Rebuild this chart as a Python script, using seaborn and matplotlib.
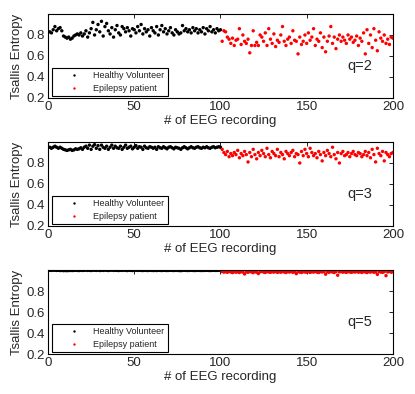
import pandas as pd
import numpy as np
import seaborn as sns
import matplotlib.pyplot as plt

# Tsallis entropy per recording
# recordings 1-100 healthy, 101-200 epilepsy

healthy_q2 = [0.83, 0.82, 0.85, 0.88, 0.84, 0.86, 0.87, 0.84, 0.79, 0.78,
              0.77, 0.78, 0.76, 0.77, 0.79, 0.80, 0.81, 0.80, 0.82, 0.79,
              0.81, 0.84, 0.78, 0.82, 0.86, 0.92, 0.80, 0.85, 0.90, 0.83,
              0.93, 0.79, 0.88, 0.91, 0.84, 0.81, 0.87, 0.78, 0.85, 0.89,
              0.82, 0.80, 0.88, 0.86, 0.83, 0.87, 0.84, 0.79, 0.86, 0.85,
              0.82, 0.88, 0.84, 0.90, 0.81, 0.86, 0.83, 0.85, 0.79, 0.87,
              0.84, 0.82, 0.88, 0.80, 0.85, 0.89, 0.83, 0.86, 0.81, 0.84,
              0.87, 0.82, 0.80, 0.85, 0.83, 0.81, 0.82, 0.89, 0.84, 0.86,
              0.83, 0.85, 0.82, 0.87, 0.84, 0.86, 0.82, 0.85, 0.83, 0.87,
              0.81, 0.86, 0.84, 0.88, 0.83, 0.85, 0.82, 0.86, 0.84, 0.85]
epilepsy_q2 = [0.74, 0.84, 0.83, 0.78, 0.76, 0.72, 0.77, 0.70, 0.75, 0.76,
               0.86, 0.71, 0.80, 0.74, 0.72, 0.76, 0.63, 0.70, 0.84, 0.70,
               0.73, 0.70, 0.80, 0.78, 0.74, 0.82, 0.70, 0.86, 0.76, 0.72,
               0.81, 0.69, 0.75, 0.73, 0.80, 0.88, 0.74, 0.70, 0.76, 0.78,
               0.72, 0.84, 0.75, 0.74, 0.62, 0.78, 0.71, 0.74, 0.80, 0.72,
               0.82, 0.75, 0.78, 0.86, 0.70, 0.76, 0.74, 0.82, 0.68, 0.78,
               0.64, 0.74, 0.79, 0.88, 0.72, 0.78, 0.67, 0.76, 0.80, 0.74,
               0.78, 0.75, 0.72, 0.80, 0.76, 0.78, 0.73, 0.75, 0.79, 0.70,
               0.77, 0.74, 0.82, 0.62, 0.85, 0.72, 0.80, 0.68, 0.86, 0.75,
               0.65, 0.83, 0.77, 0.74, 0.80, 0.72, 0.76, 0.71, 0.78, 0.77]

healthy_q3 = [0.95, 0.94, 0.95, 0.96, 0.95, 0.94, 0.95, 0.94, 0.93, 0.925,
              0.92, 0.925, 0.93, 0.92, 0.925, 0.935, 0.93, 0.935, 0.945, 0.93,
              0.95, 0.96, 0.94, 0.97, 0.93, 0.96, 0.975, 0.94, 0.965, 0.93,
              0.97, 0.95, 0.94, 0.96, 0.93, 0.95, 0.97, 0.94, 0.96, 0.945,
              0.94, 0.96, 0.93, 0.95, 0.97, 0.94, 0.95, 0.96, 0.935, 0.95,
              0.965, 0.94, 0.955, 0.95, 0.93, 0.96, 0.945, 0.94, 0.955, 0.95,
              0.94, 0.95, 0.93, 0.955, 0.945, 0.94, 0.955, 0.945, 0.935, 0.95,
              0.955, 0.945, 0.935, 0.95, 0.945, 0.94, 0.93, 0.945, 0.955, 0.945,
              0.935, 0.945, 0.955, 0.945, 0.94, 0.95, 0.955, 0.945, 0.94, 0.95,
              0.945, 0.955, 0.945, 0.94, 0.95, 0.955, 0.945, 0.95, 0.955, 0.95]
epilepsy_q3 = [0.93, 0.90, 0.88, 0.91, 0.86, 0.89, 0.87, 0.90, 0.88, 0.92,
               0.85, 0.89, 0.87, 0.91, 0.88, 0.81, 0.90, 0.86, 0.93, 0.88,
               0.84, 0.90, 0.87, 0.92, 0.89, 0.86, 0.94, 0.88, 0.85, 0.91,
               0.89, 0.87, 0.93, 0.86, 0.90, 0.88, 0.84, 0.91, 0.89, 0.87,
               0.90, 0.92, 0.86, 0.89, 0.88, 0.80, 0.91, 0.87, 0.93, 0.89,
               0.86, 0.94, 0.90, 0.87, 0.89, 0.85, 0.91, 0.88, 0.82, 0.90,
               0.87, 0.92, 0.89, 0.86, 0.95, 0.88, 0.84, 0.90, 0.80, 0.89,
               0.91, 0.87, 0.88, 0.90, 0.86, 0.89, 0.91, 0.88, 0.87, 0.90,
               0.89, 0.86, 0.88, 0.91, 0.87, 0.90, 0.85, 0.93, 0.88, 0.81,
               0.94, 0.89, 0.87, 0.91, 0.82, 0.90, 0.88, 0.86, 0.89, 0.90]

healthy_q5 = [0.997, 0.996, 0.998, 0.997, 0.996, 0.997, 0.995, 0.996, 0.994, 0.995,
              0.994, 0.995, 0.996, 0.995, 0.996, 0.997, 0.996, 0.995, 0.997, 0.996,
              0.997, 0.998, 0.996, 0.997, 0.995, 0.998, 0.997, 0.996, 0.998, 0.995,
              0.997, 0.996, 0.998, 0.997, 0.995, 0.997, 0.998, 0.996, 0.997, 0.996,
              0.995, 0.997, 0.996, 0.998, 0.996, 0.995, 0.997, 0.996, 0.995, 0.997,
              0.998, 0.996, 0.997, 0.996, 0.995, 0.997, 0.996, 0.995, 0.997, 0.996,
              0.995, 0.996, 0.995, 0.997, 0.996, 0.995, 0.997, 0.996, 0.995, 0.996,
              0.997, 0.996, 0.995, 0.997, 0.996, 0.995, 0.994, 0.996, 0.997, 0.996,
              0.995, 0.996, 0.997, 0.996, 0.995, 0.996, 0.997, 0.996, 0.995, 0.996,
              0.996, 0.997, 0.996, 0.995, 0.996, 0.997, 0.996, 0.996, 0.997, 0.996]
epilepsy_q5 = [0.985, 0.980, 0.983, 0.978, 0.986, 0.981, 0.975, 0.984, 0.979, 0.982,
               0.976, 0.985, 0.980, 0.962, 0.983, 0.978, 0.986, 0.981, 0.975, 0.984,
               0.979, 0.966, 0.983, 0.987, 0.980, 0.976, 0.985, 0.981, 0.978, 0.984,
               0.980, 0.986, 0.977, 0.983, 0.979, 0.985, 0.981, 0.976, 0.984, 0.980,
               0.986, 0.978, 0.982, 0.965, 0.985, 0.980, 0.976, 0.984, 0.981, 0.979,
               0.985, 0.977, 0.983, 0.980, 0.986, 0.979, 0.976, 0.984, 0.981, 0.985,
               0.960, 0.983, 0.978, 0.986, 0.980, 0.976, 0.984, 0.950, 0.982, 0.985,
               0.979, 0.983, 0.977, 0.985, 0.981, 0.978, 0.984, 0.980, 0.986, 0.979,
               0.983, 0.977, 0.985, 0.981, 0.976, 0.984, 0.980, 0.986, 0.978, 0.982,
               0.958, 0.985, 0.980, 0.977, 0.984, 0.946, 0.981, 0.986, 0.979, 0.983]

groups = ["Healthy Volunteer", "Epilepsy patient"]
q_values = [2, 3, 5]
panels = [(healthy_q2, epilepsy_q2), (healthy_q3, epilepsy_q3), (healthy_q5, epilepsy_q5)]

sns.set_style("white")
plt.rcParams['font.family'] = ['Liberation Sans', 'DejaVu Sans']

fig = plt.figure(figsize=(4.15, 3.94), dpi=100)
bottoms = [0.7513, 0.4264, 0.1015]

for (healthy, epilepsy), q, b in zip(panels, q_values, bottoms):
    ax = fig.add_axes([0.1157, b, 0.831, 0.2132])
    df = pd.DataFrame({
        "rec": np.arange(1, len(healthy) + len(epilepsy) + 1),
        "entropy": healthy + epilepsy,
        "group": [groups[0]] * len(healthy) + [groups[1]] * len(epilepsy),
    })
    sns.scatterplot(data=df, x="rec", y="entropy", hue="group",
                    palette={groups[0]: "k", groups[1]: "r"},
                    s=6, linewidth=0, ax=ax)
    handles, labels = ax.get_legend_handles_labels()
    ax.get_legend().remove()
    leg = ax.legend(handles, labels, loc="lower left", bbox_to_anchor=(0.012, 0.024),
                    borderaxespad=0, fontsize=6.5, frameon=True, fancybox=False,
                    edgecolor="k", framealpha=1, borderpad=0.35, labelspacing=0.45,
                    handlelength=4.2, handletextpad=0, markerscale=0.7)
    leg.get_frame().set_linewidth(0.8)

    ax.set_xlim(0, 200)
    ax.set_ylim(0.2, 1.0)
    ax.set_xticks([0, 50, 100, 150, 200])
    ax.set_yticks([0.2, 0.4, 0.6, 0.8])
    ax.tick_params(direction="in", top=True, right=True, length=3,
                   labelsize=9.5, width=0.6, color="k", pad=2.5)
    for sp in ax.spines.values():
        sp.set_color("k")
        sp.set_linewidth(0.8)
    ax.set_xlabel("# of EEG recording", fontsize=9.5, labelpad=1)
    ax.set_ylabel("Tsallis Entropy", fontsize=9.5, labelpad=2)
    ax.text(0.867, 0.38, f"q={q}", transform=ax.transAxes, fontsize=10.5, va="center")

fig.savefig("out.png", dpi=100)
